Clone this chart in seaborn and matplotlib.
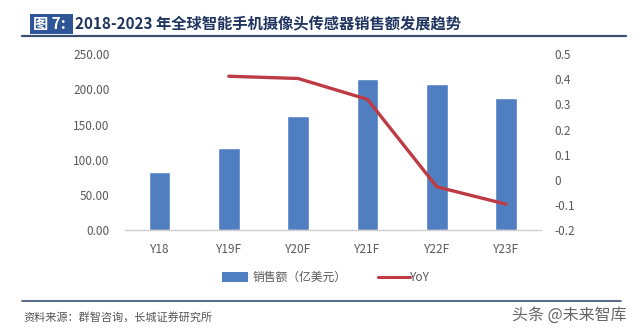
import numpy as np
import pandas as pd
import matplotlib
matplotlib.use("Agg")
import matplotlib.pyplot as plt
import seaborn as sns
from matplotlib.ticker import FuncFormatter, MultipleLocator
from matplotlib.patches import Rectangle
from matplotlib.lines import Line2D

categories = ["Y18", "Y19F", "Y20F", "Y21F", "Y22F", "Y23F"]
sales = [82.0, 116.0, 162.0, 214.0, 207.0, 187.0]
yoy_categories = ["Y19F", "Y20F", "Y21F", "Y22F", "Y23F"]
yoy = [0.412, 0.403, 0.32, -0.028, -0.097]

title_tag = "图 7:"
title_text = "2018-2023 年全球智能手机摄像头传感器销售额发展趋势"
legend_bar = "销售额（亿美元）"
legend_line = "YoY"
source_text = "资料来源：群智咨询，长城证券研究所"
watermark = "头条 @未来智库"

sns.set_theme(style="white")
plt.rcParams["font.family"] = ["Noto Sans CJK SC", "DejaVu Sans"]
plt.rcParams["axes.unicode_minus"] = False

bar_color = "#4f7fc1"
line_color = "#be3b45"
tick_color = "#595959"

fig = plt.figure(figsize=(6.4, 3.32), dpi=100)
ax = fig.add_axes([0.195, 0.307, 0.650, 0.53])

df = pd.DataFrame({"cat": categories, "sales": sales})
sns.barplot(data=df, x="cat", y="sales", order=categories, color=bar_color,
            saturation=1, width=0.31, ax=ax)
ax.set_ylim(0, 250)
ax.yaxis.set_major_locator(MultipleLocator(50))
ax.yaxis.set_major_formatter(FuncFormatter(lambda v, p: f"{v:.2f}"))
ax.set_xlim(-0.5, len(categories) - 0.5)
ax.set_xlabel("")
ax.set_ylabel("")
for s in ["top", "right", "left"]:
    ax.spines[s].set_visible(False)
ax.spines["bottom"].set_color("#d0d0d0")
ax.spines["bottom"].set_linewidth(1.0)
ax.tick_params(axis="y", length=0, pad=11, labelsize=8.5, labelcolor=tick_color)
ax.tick_params(axis="x", length=0, pad=9, labelsize=8.5, labelcolor=tick_color)

ax2 = ax.twinx()
line_df = pd.DataFrame({"x": [categories.index(c) for c in yoy_categories], "yoy": yoy})
sns.lineplot(data=line_df, x="x", y="yoy", color=line_color, linewidth=2.4, ax=ax2)
ax2.set_ylim(-0.2, 0.5)
ax2.yaxis.set_major_locator(MultipleLocator(0.1))
ax2.yaxis.set_major_formatter(FuncFormatter(lambda v, p: f"{round(v, 1):g}"))
ax2.set_xlabel("")
ax2.set_ylabel("")
for s in ["top", "right", "left", "bottom"]:
    ax2.spines[s].set_visible(False)
ax2.tick_params(axis="y", length=0, pad=10, labelsize=8.5, labelcolor=tick_color)
ax.set_xlim(-0.5, len(categories) - 0.5)

# Title
fig.patches.append(Rectangle((0.047, 0.898), 0.067, 0.06, transform=fig.transFigure,
                             facecolor="#2e5597", edgecolor="none"))
fig.text(0.051, 0.928, title_tag, color="white", fontsize=11, fontweight="bold", va="center")
fig.text(0.117, 0.928, title_text, color="#1f3560", fontsize=11, fontweight="bold", va="center")
fig.lines.append(Line2D([0.034, 0.978], [0.892, 0.892], transform=fig.transFigure,
                        color="#3a4f70", linewidth=1.6))

# Legend
fig.patches.append(Rectangle((0.347, 0.150), 0.04, 0.03, transform=fig.transFigure,
                             facecolor=bar_color, edgecolor="none"))
fig.text(0.395, 0.165, legend_bar, color=tick_color, fontsize=8.5, va="center")
fig.lines.append(Line2D([0.59, 0.64], [0.165, 0.165], transform=fig.transFigure,
                        color=line_color, linewidth=2.2))
fig.text(0.641, 0.165, legend_line, color=tick_color, fontsize=8.5, va="center")

# Footer
fig.lines.append(Line2D([0.034, 0.97], [0.092, 0.092], transform=fig.transFigure,
                        color="#3a4f70", linewidth=1.2))
fig.text(0.036, 0.045, source_text, color="#555555", fontsize=8, style="italic", va="center")
fig.text(0.80, 0.05, watermark, color="#333333", fontsize=11.5, va="center", alpha=0.75)

fig.savefig("out.png", dpi=100)
